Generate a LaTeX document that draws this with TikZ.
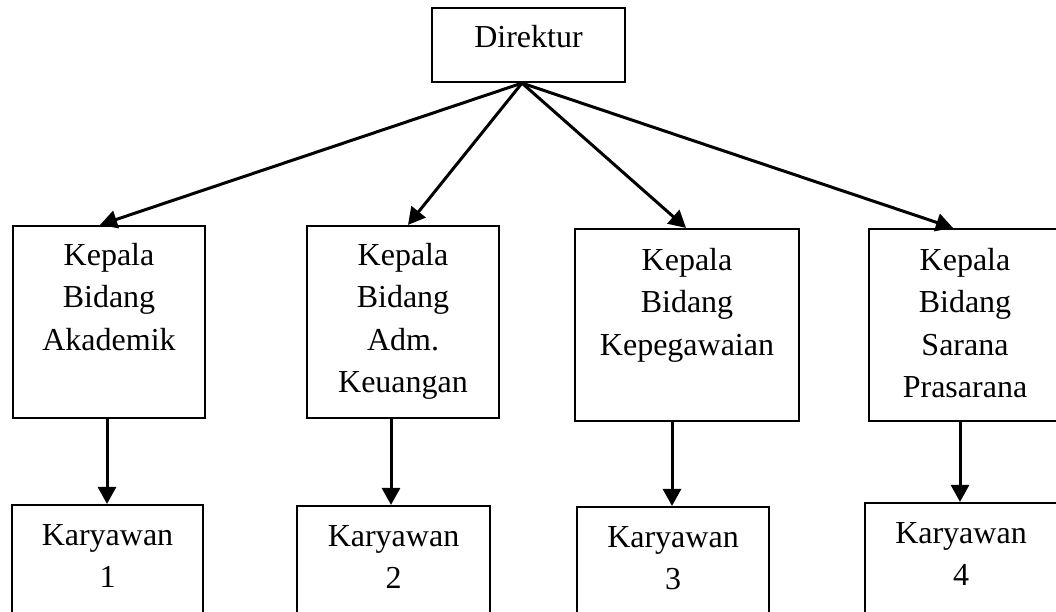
\documentclass[tikz,border=0pt]{standalone}
\usepackage{fontspec}
\setmainfont{Liberation Serif}
\usetikzlibrary{arrows.meta}
\begin{document}
\begin{tikzpicture}[x=1pt,y=-1pt,
  box/.style={draw=black, line width=2.2pt, fill=none, inner sep=0pt, minimum width=192pt},
  kbox/.style={box, minimum height=192pt},
  ybox/.style={box, minimum height=130pt},
  txt/.style={anchor=base, inner sep=0pt, font=\fontsize{32}{42.5}\selectfont},
  conn/.style={line width=3pt, -{Triangle[length=17pt,width=18pt]}}]
\clip (0,0) rectangle (1056,611);
\fill[white] (0,0) rectangle (1056,611);
% top
\node[box, minimum width=193pt, minimum height=74pt] (dir) at (528.5,45) {};
\node[txt] (dirt) at (528.5,47) {Direktur};
% Kepala boxes
\node[kbox] (k1) at (109,322) {};
\node[kbox] (k2) at (403,322) {};
\node[kbox, minimum width=224pt] (k3) at (687,325) {};
\node[kbox] (k4) at (965,325) {};
\node[txt] (k1t) at (109,265) {\begin{tabular}[t]{@{}c@{}}Kepala\\Bidang\\Akademik\end{tabular}};
\node[txt] (k2t) at (403,265) {\begin{tabular}[t]{@{}c@{}}Kepala\\Bidang\\Adm.\\Keuangan\end{tabular}};
\node[txt] (k3t) at (687,270) {\begin{tabular}[t]{@{}c@{}}Kepala\\Bidang\\Kepegawaian\end{tabular}};
\node[txt] (k4t) at (965,270) {\begin{tabular}[t]{@{}c@{}}Kepala\\Bidang\\Sarana\\Prasarana\end{tabular}};
% Karyawan boxes
\node[ybox, minimum width=191pt] (y1) at (107.5,570) {};
\node[ybox, minimum width=193pt] (y2) at (393.5,571) {};
\node[ybox] (y3) at (673,572) {};
\node[ybox] (y4) at (961,568) {};
\node[txt] (y1t) at (107.5,545) {\begin{tabular}[t]{@{}c@{}}Karyawan\\1\end{tabular}};
\node[txt] (y2t) at (393.5,546) {\begin{tabular}[t]{@{}c@{}}Karyawan\\2\end{tabular}};
\node[txt] (y3t) at (673,547) {\begin{tabular}[t]{@{}c@{}}Karyawan\\3\end{tabular}};
\node[txt] (y4t) at (961,543) {\begin{tabular}[t]{@{}c@{}}Karyawan\\4\end{tabular}};
% connectors
\coordinate (apex) at ([xshift=-6.5pt]dir.south);
\draw[conn] (apex) -- ([xshift=-9pt]k1.north);
\draw[conn] (apex) -- ([xshift=5pt]k2.north);
\draw[conn] (apex) -- ([xshift=-1pt]k3.north);
\draw[conn] (apex) -- ([xshift=-12pt]k4.north);
\draw[conn] ([xshift=-2pt]k1.south) -- ([xshift=-0.5pt]y1.north);
\draw[conn] ([xshift=-12pt]k2.south) -- ([xshift=-2.5pt]y2.north);
\draw[conn] ([xshift=-15pt]k3.south) -- ([xshift=-1pt]y3.north);
\draw[conn] ([xshift=-5pt]k4.south) -- ([xshift=-1pt]y4.north);
\end{tikzpicture}
\end{document}
